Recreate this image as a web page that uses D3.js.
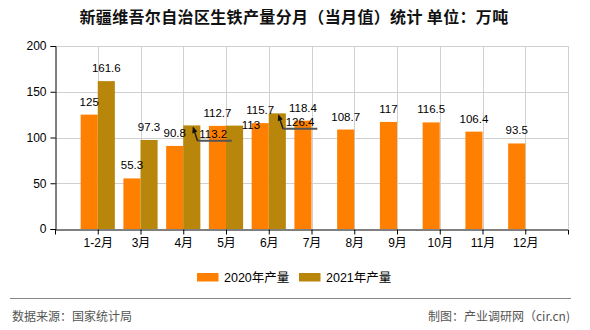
<!DOCTYPE html>
<html><head><meta charset="utf-8">
<script src="https://cdn.jsdelivr.net/npm/d3@7"></script>
<style>
body{margin:0;background:#fff;}
svg{display:block;}
text{font-family:"Liberation Sans","Noto Sans CJK SC",sans-serif;}
</style></head>
<body>
<svg id="c" width="590" height="330"></svg>
<script>
const categories = ["1-2月","3月","4月","5月","6月","7月","8月","9月","10月","11月","12月"];
const v2020 = [125,55.3,90.8,112.7,115.7,118.4,108.7,117,116.5,106.4,93.5];
const v2021 = [161.6,97.3,113.2,113,126.4,null,null,null,null,null,null];
const yTicks = [0,50,100,150,200];
const seriesNames = ["2020年产量","2021年产量"];
const colors = ["#FF8000","#B8860B"];

const svg = d3.select("#c");
const L = 55, R = 568, T = 46, B = 229;
const x = d3.scalePoint().domain(categories).range([L,R]).padding(1);
const y = d3.scaleLinear().domain([0,200]).range([B,T]);
const step = x.step();
const bw = step*0.4;

// title
svg.append("text").attr("x",294).attr("y",23).attr("text-anchor","middle")
  .attr("font-size","16px").attr("font-weight","bold").attr("fill","#111")
  .attr("letter-spacing","0.35px")
  .style("font-family","'Noto Sans CJK SC',sans-serif")
  .text("新疆维吾尔自治区生铁产量分月（当月值）统计 单位：万吨");

// grid
const g = svg.append("g");
g.selectAll(".hg").data(yTicks.filter(d=>d>0)).join("line")
  .attr("x1",L).attr("x2",R).attr("y1",d=>Math.round(y(d))+0.5).attr("y2",d=>Math.round(y(d))+0.5)
  .attr("stroke","#d0d0d0").attr("stroke-width",1);
g.selectAll(".vg").data(categories).join("line")
  .attr("x1",d=>Math.round(x(d))+0.5).attr("x2",d=>Math.round(x(d))+0.5).attr("y1",T).attr("y2",B)
  .attr("stroke","#d0d0d0").attr("stroke-width",1);
g.append("line").attr("x1",R+0.5).attr("x2",R+0.5).attr("y1",T).attr("y2",B)
  .attr("stroke","#d0d0d0").attr("stroke-width",1);

// bars
const series = [v2020, v2021];
series.forEach((vals,si)=>{
  svg.append("g").selectAll("rect").data(vals.map((v,i)=>({v,c:categories[i]})).filter(d=>d.v!=null))
    .join("rect")
    .attr("x",d=>x(d.c) + (si===0 ? -bw : 0))
    .attr("width",bw)
    .attr("y",d=>y(d.v))
    .attr("height",d=>B-y(d.v))
    .attr("fill",colors[si]);
});

// axes
const ya = svg.append("g").attr("transform",`translate(${L+0.5},0)`)
  .call(d3.axisLeft(y).tickValues(yTicks).tickSize(5).tickPadding(4));
ya.select(".domain").attr("stroke","#000");
ya.selectAll(".tick line").attr("stroke","#000");
ya.selectAll(".tick text").attr("font-size","12px").attr("fill","#000")
  .style("font-family","'Liberation Sans',sans-serif");

const xa = svg.append("g").attr("transform",`translate(0,${B+0.5})`)
  .call(d3.axisBottom(x).tickSize(5).tickPadding(4).tickSizeOuter(5));
xa.select(".domain").attr("stroke","#000");
xa.selectAll(".tick line").attr("stroke","#000");
xa.selectAll(".tick text").attr("font-size","12px").attr("fill","#000");

// value labels
const lab = svg.append("g").attr("font-size","11.5px").attr("fill","#000")
  .style("font-family","'Liberation Sans',sans-serif");
const fmt = v => String(v);
series.forEach((vals,si)=>{
  vals.forEach((v,i)=>{
    if(v==null) return;
    const cx = x(categories[i]) + (si===0 ? -bw/2 : bw/2);
    const top = y(v);
    let tx = cx, ty = top-9, anchor="middle", leader=false;
    if(si===1 && i===2){ tx=cx+7.5; ty=top+12.5; anchor="start"; leader=true; }
    if(si===1 && i===4){ tx=cx+8.4; ty=top+12.4; anchor="start"; leader=true; }
    if(si===1 && i===3){ tx=cx+7.2; ty=top+3.4; anchor="start"; }
    if(leader){
      const p = d3.path();
      p.moveTo(cx+5.7, top+15.3); p.lineTo(cx+40, top+15.3);
      lab.append("path").attr("d",p.toString()).attr("stroke","#555").attr("stroke-width",2).attr("fill","none");
      const q = d3.path();
      q.moveTo(cx+5.7, top+15.3); q.lineTo(cx+2, top+4);
      lab.append("path").attr("d",q.toString()).attr("stroke","#222").attr("stroke-width",1.5).attr("fill","none");
      const ah = d3.path();
      ah.moveTo(cx+1, top+1); ah.lineTo(cx+0.5, top+8); ah.lineTo(cx+5.5, top+6); ah.closePath();
      lab.append("path").attr("d",ah.toString()).attr("fill","#111");
    }
    lab.append("text").attr("x",tx).attr("y",ty).attr("text-anchor",anchor).text(fmt(v));
  });
});

// legend
const lg = svg.append("g");
const legX = [197, 299];
seriesNames.forEach((n,i)=>{
  lg.append("rect").attr("x",legX[i]).attr("y",273).attr("width",21.5).attr("height",8.5).attr("fill",colors[i]);
  lg.append("text").attr("x",legX[i]+27).attr("y",282).attr("font-size","12.5px").attr("fill","#000").text(n);
});

// separator & footer
svg.append("line").attr("x1",10).attr("x2",571).attr("y1",298.5).attr("y2",298.5).attr("stroke","#888").attr("stroke-width",1);
svg.append("text").attr("x",12).attr("y",321).attr("font-size","12px").attr("fill","#555")
  .style("font-family","'Noto Sans CJK SC',sans-serif").text("数据来源：国家统计局");
svg.append("text").attr("x",570).attr("y",321).attr("text-anchor","end").attr("font-size","12px").attr("fill","#555")
  .style("font-family","'Noto Sans CJK SC',sans-serif").text("制图：产业调研网（cir.cn)");
</script>
</body></html>
